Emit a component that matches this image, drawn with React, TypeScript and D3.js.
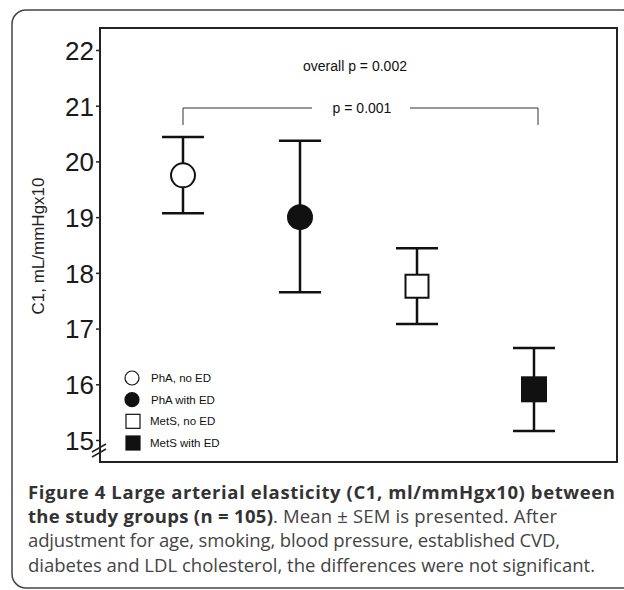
import React, { useEffect, useRef } from "react";
import * as d3 from "d3";

const groups = ["PhA, no ED", "PhA with ED", "MetS, no ED", "MetS with ED"];
const means = [19.75, 19.0, 17.76, 15.91];
const upper = [20.44, 20.37, 18.44, 16.65];
const lower = [19.07, 17.65, 17.08, 15.16];
const markerShapes = ["circle", "circle", "square", "square"];
const markerFilled = [false, true, false, true];
const yTicks = [15, 16, 17, 18, 19, 20, 21, 22];

const captionBold1 = "Figure 4 Large arterial elasticity (C1, ml/mmHgx10) between";
const captionBold2 = "the study groups (n = 105)";
const captionRest2 = ". Mean \u00b1 SEM is presented. After";
const captionLine3 = "adjustment for age, smoking, blood pressure, established CVD,";
const captionLine4 = "diabetes and LDL cholesterol, the differences were not significant.";

export default function App() {
  const svgRef = useRef<SVGSVGElement | null>(null);

  useEffect(() => {
    if (!svgRef.current) return;
    const svg = d3.select(svgRef.current);
    svg.selectAll("*").remove();

    const W = 624;
    const frame = { left: 100, top: 28, right: 617, bottom: 462 };

    // outer rounded border (runs off to the right)
    svg.append("rect")
      .attr("x", 12).attr("y", 10)
      .attr("width", W).attr("height", 578)
      .attr("rx", 14)
      .attr("fill", "white")
      .attr("stroke", "#444")
      .attr("stroke-width", 1.5);

    const x = d3.scalePoint<string>()
      .domain(groups)
      .range([183, 534]);

    const y = d3.scaleLinear()
      .domain([15, 22])
      .range([440, 50]);

    // plot frame
    svg.append("rect")
      .attr("x", frame.left).attr("y", frame.top)
      .attr("width", frame.right - frame.left)
      .attr("height", frame.bottom - frame.top)
      .attr("fill", "none")
      .attr("stroke", "#222")
      .attr("stroke-width", 2);

    // y axis ticks
    const axis = svg.append("g")
      .attr("transform", `translate(${frame.left},0)`)
      .call(d3.axisLeft(y).tickValues(yTicks).tickSize(4).tickPadding(2).tickFormat(d3.format("d")))
      .call(g => g.select(".domain").remove());
    axis.selectAll("line").attr("stroke", "#222").attr("stroke-width", 1.5);
    axis.selectAll("text")
      .attr("fill", "#1a1a1a")
      .attr("font-family", "Liberation Sans, Arial, sans-serif")
      .attr("font-size", 26)
      .attr("dy", "0.36em");

    // axis break marks
    [0, 5].forEach(off => {
      svg.append("line")
        .attr("x1", 92).attr("y1", 452 + off)
        .attr("x2", 106).attr("y2", 444 + off)
        .attr("stroke", "#222").attr("stroke-width", 1.5);
    });

    // y axis title
    svg.append("text")
      .attr("transform", `translate(44,246) rotate(-90)`)
      .attr("text-anchor", "middle")
      .attr("font-family", "Liberation Sans, Arial, sans-serif")
      .attr("font-size", 17)
      .attr("fill", "#222")
      .text("C1, mL/mmHgx10");

    // annotations
    svg.append("text")
      .attr("x", 355).attr("y", 71)
      .attr("text-anchor", "middle")
      .attr("font-family", "Liberation Sans, Arial, sans-serif")
      .attr("font-size", 14)
      .attr("fill", "#111")
      .text("overall p = 0.002");

    const bx1 = x(groups[0])!;
    const bx2 = x(groups[3])! + 4;
    const by = 108;
    const bracket = d3.path();
    bracket.moveTo(bx1, 125); bracket.lineTo(bx1, by); bracket.lineTo(312, by);
    bracket.moveTo(410, by); bracket.lineTo(bx2, by); bracket.lineTo(bx2, 125);
    svg.append("path")
      .attr("d", bracket.toString())
      .attr("fill", "none")
      .attr("stroke", "#333")
      .attr("stroke-width", 1);
    svg.append("text")
      .attr("x", 362).attr("y", 113)
      .attr("text-anchor", "middle")
      .attr("font-family", "Liberation Sans, Arial, sans-serif")
      .attr("font-size", 14)
      .attr("fill", "#111")
      .text("p = 0.001");

    // error bars
    const capHalf = 21;
    groups.forEach((g, i) => {
      const cx = x(g)!;
      const eb = svg.append("g").attr("stroke", "#111").attr("stroke-width", 2.5);
      eb.append("line").attr("x1", cx).attr("x2", cx).attr("y1", y(upper[i])).attr("y2", y(lower[i]));
      eb.append("line").attr("x1", cx - capHalf).attr("x2", cx + capHalf).attr("y1", y(upper[i])).attr("y2", y(upper[i]));
      eb.append("line").attr("x1", cx - capHalf).attr("x2", cx + capHalf).attr("y1", y(lower[i])).attr("y2", y(lower[i]));

      const fill = markerFilled[i] ? "#111" : "white";
      if (markerShapes[i] === "circle") {
        svg.append("circle")
          .attr("cx", cx).attr("cy", y(means[i]))
          .attr("r", 12)
          .attr("fill", fill)
          .attr("stroke", "#111").attr("stroke-width", 2);
      } else {
        const s = markerFilled[i] ? 24 : 23;
        svg.append("rect")
          .attr("x", cx - s / 2).attr("y", y(means[i]) - s / 2)
          .attr("width", s).attr("height", s)
          .attr("fill", fill)
          .attr("stroke", "#111").attr("stroke-width", 2);
      }
    });

    // legend
    const legendY = d3.scalePoint<string>().domain(groups).range([378, 443]);
    groups.forEach((g, i) => {
      const ly = legendY(g)!;
      const fill = markerFilled[i] ? "#111" : "white";
      if (markerShapes[i] === "circle") {
        svg.append("circle")
          .attr("cx", 132).attr("cy", ly).attr("r", 7)
          .attr("fill", fill).attr("stroke", "#111").attr("stroke-width", 1.2);
      } else {
        svg.append("rect")
          .attr("x", 126).attr("y", ly - 7).attr("width", 14).attr("height", 14)
          .attr("fill", fill).attr("stroke", "#111").attr("stroke-width", 1.2);
      }
      svg.append("text")
        .attr("x", markerShapes[i] === "circle" ? 151 : 150).attr("y", ly + 4)
        .attr("font-family", "Liberation Sans, Arial, sans-serif")
        .attr("font-size", 11.5)
        .attr("fill", "#111")
        .text(g);
    });

    // caption
    const capFont = "Open Sans, sans-serif";
    const capSize = 18.5;
    const capLine = (tx: number, ty: number, txt: string, len: number, bold: boolean) =>
      svg.append("text")
        .attr("x", tx).attr("y", ty)
        .attr("font-family", capFont).attr("font-size", capSize)
        .attr("font-weight", bold ? "bold" : "normal")
        .attr("fill", bold ? "#333" : "#444")
        .attr("textLength", len).attr("lengthAdjust", "spacing")
        .text(txt);
    capLine(28, 499, captionBold1, 587, true);
    capLine(28, 523, captionBold2, 245, true);
    capLine(273, 523, captionRest2, 284, false);
    capLine(28, 547, captionLine3, 532, false);
    capLine(28, 572, captionLine4, 567, false);
  }, []);

  return (
    <div style={{ position: "absolute", left: 0, top: 0, background: "white" }}>
      <svg ref={svgRef} width={624} height={590} style={{ display: "block" }} />
    </div>
  );
}
